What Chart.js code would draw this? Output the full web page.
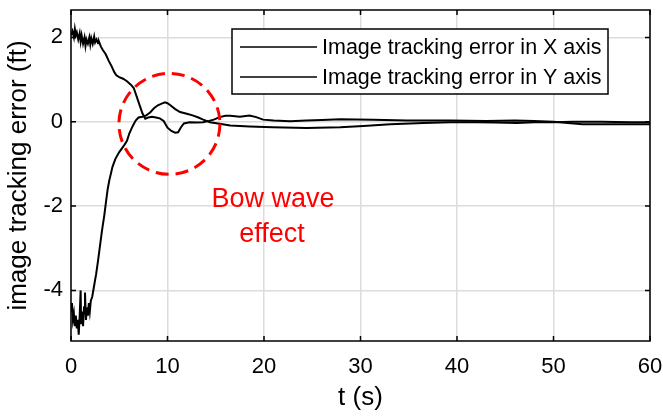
<!DOCTYPE html>
<html lang="en">
<head>
  <meta charset="UTF-8">
  <title>Image tracking error</title>
  <script src="https://cdn.jsdelivr.net/npm/chart.js"></script>
  <style>
    html, body { margin: 0; padding: 0; background: #fff; }
    #wrap { width: 663px; height: 416px; }
  </style>
</head>
<body>
  <div id="wrap"><canvas id="errChart"></canvas></div>

  <script>
    // error in X axis (ft) vs time (s)
    const timeX = [0, 0.15, 0.3, 0.4, 0.5, 0.6, 0.75, 0.9, 1.0, 1.1, 1.25, 1.4, 1.5, 1.6, 1.75, 1.9, 2.0, 2.1, 2.25, 2.4,
      2.5, 2.65, 2.8, 2.9, 3.1, 3.3, 3.6, 3.9, 4.2, 4.5, 4.7, 5.0, 5.4, 5.8, 6.2, 6.5, 6.8, 7.1, 7.4, 7.7,
      8.0, 8.4, 8.8, 9.2, 9.6, 10.0, 10.4, 10.8, 11.1, 11.4, 11.7, 12.3, 13.0, 13.7, 14.3, 14.8, 15.4, 16.0, 16.5, 17.5,
      18.5, 19.2, 19.9, 21, 22.7, 24.4, 26, 27.9, 31.3, 34.8, 39.3, 43, 46, 48, 50, 51.5, 53, 55, 58, 60];
    const errorX = [2.05, 2.15, 2.0, 2.2, 2.05, 2.12, 1.95, 2.1, 1.9, 2.05, 1.85, 2.0, 1.8, 1.95, 1.85, 2.0, 1.83, 1.98, 1.85, 2.02,
      1.88, 1.95, 1.86, 1.9, 1.78, 1.7, 1.6, 1.45, 1.32, 1.17, 1.1, 1.06, 1.02, 0.96, 0.88, 0.8, 0.6, 0.4, 0.2, 0.07,
      0.1, 0.12, 0.1, 0.08, 0.02, -0.14, -0.22, -0.26, -0.25, -0.13, -0.04, -0.01, -0.02, -0.01, 0.02, 0.05, 0.11, 0.14, 0.14, 0.12,
      0.15, 0.11, 0.05, 0.03, 0.01, 0.03, 0.04, 0.06, 0.05, 0.03, 0.03, 0.02, 0.03, 0.02, 0.0, -0.03, -0.06, -0.06, -0.06, -0.06];

    // error in Y axis (ft) vs time (s)
    const timeY = [0, 0.1, 0.2, 0.3, 0.4, 0.5, 0.6, 0.7, 0.8, 0.9, 1.0, 1.05, 1.15, 1.25, 1.35, 1.45, 1.55, 1.65, 1.75, 1.85,
      1.95, 2.05, 2.2, 2.35, 2.5, 2.6, 2.8, 3.0, 3.2, 3.45, 3.6, 3.8, 3.97, 4.3, 4.6, 5.0, 5.5, 5.8, 6.04, 6.4,
      6.7, 7.0, 7.4, 7.8, 8.2, 8.6, 9.0, 9.4, 9.74, 10.0, 10.3, 10.8, 11.3, 12.0, 12.6, 13.2, 13.7, 14.4, 15.4, 16.5,
      17.5, 18.5, 20.9, 24.4, 27.9, 30.3, 33.1, 36.5, 39.3, 42, 44, 46.2, 48, 50, 52, 55, 58, 60];
    const errorY = [-4.5, -4.3, -4.7, -4.55, -4.85, -4.6, -4.9, -4.7, -5.05, -4.6, -4.0, -4.8, -4.5, -4.85, -4.4, -4.05, -4.7, -4.4, -4.6, -4.3,
      -4.5, -4.25, -4.15, -3.95, -3.75, -3.62, -3.3, -2.95, -2.6, -2.22, -1.95, -1.6, -1.39, -1.07, -0.88, -0.72, -0.56, -0.45, -0.28, -0.1,
      0.03, 0.1, 0.12, 0.15, 0.22, 0.32, 0.39, 0.43, 0.46, 0.44, 0.39, 0.3, 0.23, 0.19, 0.15, 0.1, 0.05, -0.01, -0.05, -0.09,
      -0.1, -0.11, -0.13, -0.15, -0.13, -0.1, -0.06, -0.03, -0.01, -0.01, -0.02, -0.03, -0.01, -0.01, 0.0, 0.0, -0.01, -0.01];

    const seriesNames = ['Image tracking error in X axis', 'Image tracking error in Y axis'];
    const xTicks = [0, 10, 20, 30, 40, 50, 60];
    const yTicks = [-4, -2, 0, 2];

    const FONT = '"Liberation Sans", Arial, sans-serif';

    const toPoints = (ts, vs) => ts.map((t, i) => ({ x: t, y: vs[i] }));

    // drop the extra room chart.js keeps for the end labels
    function noEdgePadding(s) {
      s.paddingTop = 0; s.paddingBottom = 0;
      s.paddingLeft = 0; s.paddingRight = 0;
    }

    // frame + inward ticks, bow wave circle, legend box
    const decorations = {
      id: 'decorations',
      afterDatasetsDraw(chart) {
        const { ctx, chartArea: a, scales: { x, y } } = chart;
        ctx.save();

        // red dashed circle around the bow wave
        const cx = x.getPixelForValue(10.2);
        const cy = y.getPixelForValue(-0.05);
        ctx.strokeStyle = '#ff0000';
        ctx.lineWidth = 3;
        ctx.setLineDash([13, 7]);
        ctx.beginPath();
        ctx.arc(cx, cy, 50.5, 0, Math.PI * 2);
        ctx.stroke();
        ctx.setLineDash([]);

        ctx.fillStyle = '#ff0000';
        ctx.font = '27px ' + FONT;
        ctx.textAlign = 'center';
        ctx.textBaseline = 'alphabetic';
        ctx.fillText('Bow wave', 273, 207);
        ctx.fillText('effect', 272, 242);

        // box frame
        ctx.strokeStyle = '#000';
        ctx.lineWidth = 1.5;
        ctx.strokeRect(a.left, a.top, a.right - a.left, a.bottom - a.top);

        // inward ticks on all sides
        const tl = 5;
        ctx.beginPath();
        xTicks.forEach(v => {
          const px = x.getPixelForValue(v);
          ctx.moveTo(px, a.bottom); ctx.lineTo(px, a.bottom - tl);
          ctx.moveTo(px, a.top); ctx.lineTo(px, a.top + tl);
        });
        yTicks.forEach(v => {
          const py = y.getPixelForValue(v);
          ctx.moveTo(a.left, py); ctx.lineTo(a.left + tl, py);
          ctx.moveTo(a.right, py); ctx.lineTo(a.right - tl, py);
        });
        ctx.stroke();

        // legend
        const lx = 232, ly = 29, lw = 376, lh = 65;
        ctx.fillStyle = '#fff';
        ctx.fillRect(lx, ly, lw, lh);
        ctx.lineWidth = 1.5;
        ctx.strokeRect(lx, ly, lw, lh);
        ctx.font = '21.5px ' + FONT;
        ctx.textAlign = 'left';
        ctx.textBaseline = 'middle';
        ctx.fillStyle = '#000';
        seriesNames.forEach((name, i) => {
          const rowY = ly + 18 + i * 30;
          ctx.beginPath();
          ctx.moveTo(240, rowY);
          ctx.lineTo(317, rowY);
          ctx.stroke();
          ctx.fillText(name, 322, rowY + 1);
        });

        ctx.restore();
      }
    };

    const ctx = document.getElementById('errChart').getContext('2d');
    new Chart(ctx, {
      type: 'line',
      data: {
        datasets: [
          { label: seriesNames[0], data: toPoints(timeX, errorX) },
          { label: seriesNames[1], data: toPoints(timeY, errorY) }
        ].map(ds => Object.assign(ds, {
          borderColor: '#000',
          borderWidth: 2,
          pointRadius: 0,
          tension: 0,
          fill: false
        }))
      },
      options: {
        responsive: true,
        maintainAspectRatio: false,
        animation: false,
        layout: { padding: { top: 10, right: 13, left: 0, bottom: 0 } },
        plugins: { legend: { display: false }, tooltip: { enabled: false } },
        scales: {
          x: {
            type: 'linear',
            min: 0, max: 60,
            afterBuildTicks: s => { s.ticks = xTicks.map(v => ({ value: v })); },
            afterFit: s => { s.height = 75; noEdgePadding(s); },
            grid: { color: '#dcdcdc', lineWidth: 1.5, drawTicks: false },
            border: { display: false },
            ticks: { color: '#000', font: { family: FONT, size: 22 }, padding: 13, maxRotation: 0 },
            title: { display: true, text: 't (s)', color: '#000', font: { family: FONT, size: 26 }, padding: { top: 2, bottom: 3 } }
          },
          y: {
            min: -5.2, max: 2.65,
            afterBuildTicks: s => { s.ticks = yTicks.map(v => ({ value: v })); },
            afterFit: s => { s.width = 71; noEdgePadding(s); },
            grid: { color: '#dcdcdc', lineWidth: 1.5, drawTicks: false },
            border: { display: false },
            ticks: { color: '#000', font: { family: FONT, size: 22 }, padding: 8 },
            title: { display: true, text: 'image tracking error (ft)', color: '#000', font: { family: FONT, size: 26 }, padding: { top: 3, bottom: 0 } }
          }
        }
      },
      plugins: [decorations]
    });
  </script>
</body>
</html>
